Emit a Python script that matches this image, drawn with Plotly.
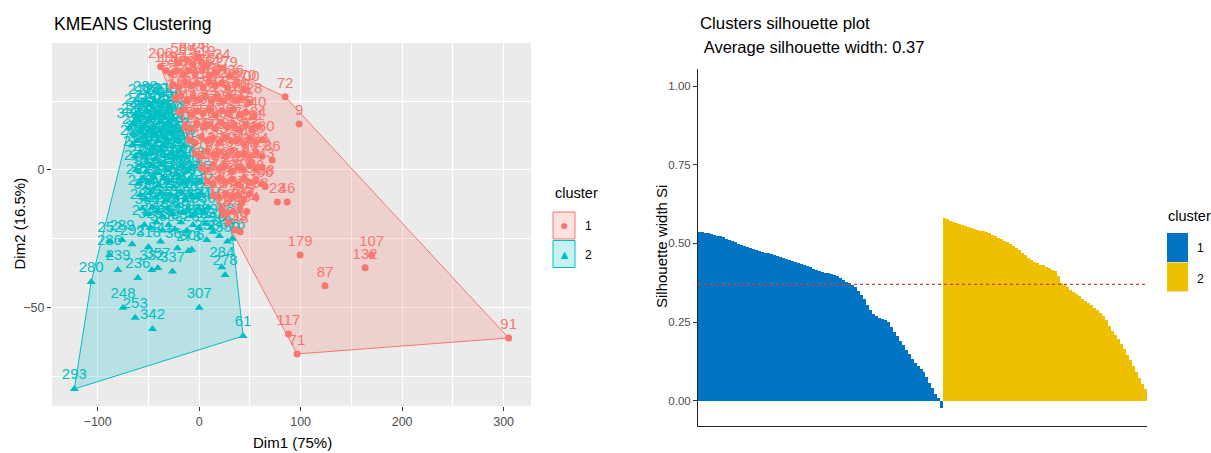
import plotly.graph_objects as go

W, H = 1211, 453
FONT = "Liberation Sans, Arial, sans-serif"

# ---------------- data ----------------
# k-means on PCA scores: (observation id, Dim1, Dim2)
cluster1_points = [
    (73, -2, 40.7), (206, -38, 37.5), (119, -32.5, 36), (24, 22.7, 37), (200, 47.3, 29),
    (72, 84.7, 26.6), (9, 98.5, 16.7), (86, 72, 3.6), (23, 77, -11.6), (46, 86.7, -11.6),
    (179, 99.5, -30.9), (87, 124, -42), (132, 163.5, -35.5), (107, 170, -30.9),
    (117, 88, -59.6), (71, 96.5, -66.8), (91, 305, -61),
    (58, -20, 39), (88, -12, 40), (5, -6, 38.5), (28, 2, 39.5), (19, 8, 38),
    (125, -28, 35), (33, -22, 36), (150, -16, 34.5), (12, -10, 36), (77, -4, 35),
    (44, 3, 36.5), (161, 10, 34.5), (39, 16, 35.5), (79, 30, 34),
    (2, -26, 31), (95, -20, 30), (141, -14, 32), (17, -8, 30.5), (63, -2, 31.5), (110, 4, 30),
    (27, 10, 32), (152, 16, 30.5), (41, 22, 31.5), (190, 28, 30), (36, 36, 31), (170, 44, 29.5),
    (14, -24, 26), (101, -18, 27), (55, -12, 25), (187, -6, 26.5), (8, 0, 25.5), (133, 6, 27),
    (67, 12, 25), (94, 18, 26.5), (159, 24, 25), (31, 30, 27), (112, 36, 25.5), (49, 42, 26),
    (128, 50, 24.5),
    (3, -20, 21), (144, -14, 22), (81, -8, 20), (26, -2, 21.5), (167, 4, 20.5), (52, 10, 22),
    (99, 16, 20), (35, 22, 21.5), (183, 28, 20.5), (60, 34, 22), (115, 40, 20), (16, 46, 21),
    (140, 54, 19.5),
    (47, -14, 16), (105, -8, 15), (11, -2, 17), (176, 4, 15.5), (70, 10, 16.5), (22, 16, 15),
    (138, 22, 17), (92, 28, 15.5), (57, 34, 16), (164, 40, 14.5), (1, 46, 16.5), (121, 52, 15),
    (84, 58, 16),
    (30, -10, 11), (147, -4, 10), (65, 2, 12), (7, 8, 10.5), (113, 14, 11.5), (43, 20, 10),
    (195, 26, 12), (76, 32, 10.5), (18, 38, 11), (156, 44, 9.5), (97, 50, 11.5), (38, 56, 10),
    (130, 62, 11),
    (53, -4, 6), (173, 2, 5), (13, 8, 7), (89, 14, 5.5), (136, 20, 6.5), (40, 26, 5),
    (104, 32, 7), (6, 38, 5.5), (162, 44, 6), (68, 50, 4.5), (124, 56, 6.5), (29, 62, 5),
    (85, 2, 1), (148, 8, 0), (21, 14, 2), (62, 20, 0.5), (180, 26, 1.5), (10, 32, -0.5),
    (116, 38, 1), (50, 44, 0), (93, 50, 2), (4, 56, 0.5), (143, 62, 1),
    (34, 8, -4), (168, 14, -5), (74, 20, -3), (15, 26, -4.5), (126, 32, -3.5), (54, 38, -5),
    (100, 44, -3), (191, 50, -4.5), (42, 56, -3.5), (158, 62, -5), (66, 65, -6),
    (120, 14, -9), (25, 20, -10), (83, 26, -8.5), (171, 32, -10), (37, 38, -9), (109, 44, -10.5),
    (61, 50, -8.5), (153, 56, -10), (145, 42, -12),
    (166, 22, -14), (167, 28, -15.5), (20, 33.5, -15.1), (96, 40, -14), (134, 47, -15.1),
    (78, 23.6, -16.3), (32, 28.6, -19.2), (139, 35.5, -21.8), (48, 40.4, -22.4),
]

cluster2_points = [
    (212, -58, 24), (288, -53, 25), (201, -48, 23.5), (330, -43, 24.5), (264, -38, 23),
    (219, -33, 24.5), (356, -29, 22.5),
    (244, -62, 20.5), (310, -57, 19.5), (227, -52, 21.5), (371, -47, 19), (205, -42, 21),
    (295, -37, 19.5), (259, -32, 21), (338, -27, 18.5),
    (222, -65, 17), (347, -60, 18), (271, -54, 16), (208, -49, 18), (316, -44, 15.5),
    (233, -39, 17.5), (379, -34, 16), (250, -29, 18), (301, -24, 15),
    (385, -69, 15.3), (226, -64, 13), (362, -58, 14), (277, -53, 12.5), (214, -48, 14.5),
    (323, -43, 13), (241, -38, 14), (290, -33, 12), (203, -28, 13.5), (352, -23, 12), (267, -19, 14),
    (229, -66, 9), (305, -61, 10.5), (218, -56, 9), (366, -51, 10), (282, -46, 8), (246, -41, 10.5),
    (334, -36, 9), (209, -31, 10), (298, -26, 8.5), (257, -21, 10.5), (375, -16, 9),
    (221, -63, 5), (313, -58, 6.5), (269, -53, 5.5), (202, -48, 6.5), (344, -43, 4), (235, -38, 7),
    (287, -33, 5), (319, -28, 6), (251, -23, 4.5), (360, -18, 7), (216, -13, 5),
    (274, -62, 0), (225, -57, 2), (327, -52, -0.5), (260, -47, 1.5), (211, -42, -1), (369, -37, 2),
    (294, -32, 0), (240, -27, 1), (308, -22, -1.5), (207, -17, 1.5), (350, -12, -0.5), (263, -7, 1),
    (232, -60, -5), (321, -55, -3), (276, -50, -4.5), (215, -45, -2.5), (358, -40, -5.5),
    (247, -35, -3), (302, -30, -4), (204, -25, -6), (339, -20, -3), (268, -15, -5), (224, -10, -3.5),
    (373, -5, -5), (285, 0, -4),
    (249, -58, -9), (311, -53, -10.5), (230, -48, -8), (363, -43, -10), (279, -38, -8.5),
    (213, -33, -11), (326, -28, -9), (256, -23, -10), (297, -18, -8), (220, -13, -11),
    (345, -8, -9), (272, -3, -10), (317, 2, -8.5),
    (237, -56, -14), (354, -51, -16), (283, -46, -13.5), (210, -41, -15), (329, -36, -17),
    (261, -31, -14), (300, -26, -16), (228, -21, -13), (377, -16, -15.5), (243, -11, -14),
    (315, -6, -16.5), (254, -1, -14), (336, 4, -15.5), (217, 9, -13.5),
    (270, -54, -20), (325, -48, -21), (258, -42, -19), (368, -36, -22), (234, -30, -20),
    (303, -24, -21.5), (281, -18, -19), (223, -12, -22), (349, -6, -20), (266, 0, -21),
    (299, 6, -19.5), (231, 12, -21),
    (252, -88, -26), (289, -76, -25.4), (286, -88.4, -30.9), (292, -66, -27), (318, -50, -28),
    (341, -38, -26), (364, -21.4, -28.4), (273, -10.5, -29.4), (306, -7.2, -29), (238, 7.6, -25.4),
    (296, 13.8, -22.4), (312, 20, -24), (359, 28, -26), (376, 33, -25), (381, 30.5, -19),
    (239, -80, -36.3), (236, -60.4, -39.2), (332, -46.6, -36.3), (357, -40.7, -35.6),
    (337, -26.3, -36.9), (284, 22.3, -35.3), (278, 25.6, -38.1),
    (293, -123, -79.5), (280, -106.4, -40.7), (248, -75, -50), (253, -63, -53.7),
    (342, -46, -57.7), (307, 0, -50), (61, 43.3, -60.3),
]

# silhouette widths, sorted within each cluster
sil_cluster1 = [
    0.537, 0.535, 0.534, 0.532, 0.530, 0.528, 0.525, 0.522, 0.519, 0.514,
    0.510, 0.507, 0.503, 0.499, 0.496, 0.492, 0.489, 0.486, 0.483, 0.480,
    0.477, 0.474, 0.471, 0.468, 0.466, 0.463, 0.460, 0.457, 0.454, 0.451,
    0.448, 0.445, 0.442, 0.438, 0.435, 0.431, 0.427, 0.424, 0.420, 0.417,
    0.413, 0.410, 0.407, 0.405, 0.402, 0.400, 0.396, 0.390, 0.385, 0.379,
    0.374, 0.369, 0.362, 0.350, 0.337, 0.322, 0.305, 0.288, 0.277, 0.268,
    0.264, 0.261, 0.257, 0.250, 0.236, 0.219, 0.205, 0.190, 0.176, 0.162,
    0.148, 0.134, 0.120, 0.110, 0.101, 0.091, 0.077, 0.057, 0.040, 0.023,
    0.008, -0.023,
]
sil_cluster2 = [
    0.580, 0.576, 0.572, 0.568, 0.564, 0.561, 0.558, 0.555, 0.552, 0.549,
    0.547, 0.544, 0.541, 0.538, 0.535, 0.532, 0.527, 0.522, 0.517, 0.513,
    0.508, 0.503, 0.497, 0.491, 0.485, 0.479, 0.471, 0.463, 0.455, 0.446,
    0.440, 0.437, 0.433, 0.430, 0.426, 0.421, 0.416, 0.411, 0.398, 0.374,
    0.367, 0.360, 0.353, 0.346, 0.339, 0.332, 0.325, 0.317, 0.310, 0.303,
    0.295, 0.288, 0.280, 0.271, 0.256, 0.239, 0.222, 0.209, 0.195, 0.180,
    0.165, 0.147, 0.129, 0.111, 0.092, 0.073, 0.055, 0.038,
]
avg_sil_width = 0.37

dim1_ticks = [-100, 0, 100, 200, 300]
dim2_ticks = [-50, 0]
sil_ticks = [0.0, 0.25, 0.50, 0.75, 1.00]

COL = {"1": "#F8766D", "2": "#00BFC4"}
FILL = {"1": "rgba(248,118,109,0.22)", "2": "rgba(0,191,196,0.22)"}
SIL_COL = {"1": "#0073C2", "2": "#EFC000"}


def convex_hull(pts):
    pts = sorted(set(pts))

    def cross(o, a, b):
        return (a[0] - o[0]) * (b[1] - o[1]) - (a[1] - o[1]) * (b[0] - o[0])

    lower, upper = [], []
    for p in pts:
        while len(lower) >= 2 and cross(lower[-2], lower[-1], p) <= 0:
            lower.pop()
        lower.append(p)
    for p in reversed(pts):
        while len(upper) >= 2 and cross(upper[-2], upper[-1], p) <= 0:
            upper.pop()
        upper.append(p)
    return lower[:-1] + upper[:-1]


def px(x):
    return x / W


def py(y):
    return 1 - y / H


fig = go.Figure()

# ---------------- cluster plot ----------------
clusters = [("2", cluster2_points, "triangle-up", 8), ("1", cluster1_points, "circle", 7)]
for name, pts, _, _ in clusters:
    hull = convex_hull([(x, y) for _, x, y in pts])
    hull.append(hull[0])
    fig.add_trace(go.Scatter(
        x=[p[0] for p in hull], y=[p[1] for p in hull], mode="lines",
        fill="toself", fillcolor=FILL[name], line=dict(color=COL[name], width=1),
        xaxis="x", yaxis="y", hoverinfo="skip", showlegend=False))

for name, pts, symbol, size in clusters:
    fig.add_trace(go.Scatter(
        x=[p[1] for p in pts], y=[p[2] for p in pts], text=[str(p[0]) for p in pts],
        mode="markers+text", textposition="top center",
        textfont=dict(family=FONT, size=15, color=COL[name]),
        marker=dict(symbol=symbol, size=size, color=COL[name]),
        xaxis="x", yaxis="y", showlegend=False, name=name))

# ---------------- silhouette plot ----------------
sil_all = sil_cluster1 + sil_cluster2
order = list(range(1, len(sil_all) + 1))
bar_colors = [SIL_COL["1"]] * len(sil_cluster1) + [SIL_COL["2"]] * len(sil_cluster2)
fig.add_trace(go.Bar(x=order, y=sil_all, marker=dict(color=bar_colors, line=dict(width=0)),
                     xaxis="x2", yaxis="y2", showlegend=False))

shapes = [
    # grey panel of the cluster plot
    dict(type="rect", xref="x domain", yref="y domain", x0=0, x1=1, y0=0, y1=1,
         fillcolor="#EBEBEB", line=dict(width=0), layer="below"),
    # average silhouette width
    dict(type="line", xref="x2", yref="y2", x0=0.5, x1=len(sil_all) + 0.5,
         y0=avg_sil_width, y1=avg_sil_width, line=dict(color="#c8413a", width=1.2, dash="3px,3px")),
]

# legend keys
for i, name in enumerate(["1", "2"]):
    top = 212 + i * 28.5
    shapes.append(dict(type="rect", xref="paper", yref="paper", x0=px(553), x1=px(575),
                       y0=py(top + 27), y1=py(top), fillcolor=FILL[name],
                       line=dict(color=COL[name], width=1)))
    top2 = 233 + i * 29.5
    shapes.append(dict(type="rect", xref="paper", yref="paper", x0=px(1167), x1=px(1188),
                       y0=py(top2 + 29), y1=py(top2), fillcolor=SIL_COL[name],
                       line=dict(width=0)))


def ann(text, x, y, size, color="#000000", xanchor="left", yanchor="middle", angle=0):
    return dict(text=text, x=px(x), y=py(y), xref="paper", yref="paper", showarrow=False,
                xanchor=xanchor, yanchor=yanchor, textangle=angle,
                font=dict(family=FONT, size=size, color=color))


annotations = [
    ann("KMEANS Clustering", 52, 24, 17.5),
    ann("Dim1 (75%)", 292, 442, 15, xanchor="center"),
    ann("Dim2 (16.5%)", 18.5, 224, 15, xanchor="center", angle=-90),
    ann("cluster", 553, 193, 14.5),
    ann("1", 583, 226, 12),
    ann("2", 583, 255, 12),
    ann("\u25CF", 564, 225, 14, color=COL["1"], xanchor="center"),
    ann("\u25B2", 564, 254, 13, color=COL["2"], xanchor="center"),
    ann("Clusters silhouette plot", 698, 23.5, 16.8),
    ann(" Average silhouette width: " + f"{avg_sil_width:.2f}", 698, 47.5, 16.5),
    ann("Silhouette width Si", 661, 247, 15, xanchor="center", angle=-90),
    ann("cluster", 1166, 216, 14.5),
    ann("1", 1195, 248, 12),
    ann("2", 1195, 279, 12),
]

fig.update_layout(
    width=W, height=H, margin=dict(l=0, r=0, t=0, b=0),
    paper_bgcolor="white", plot_bgcolor="white",
    font=dict(family=FONT), bargap=0, showlegend=False,
    shapes=shapes, annotations=annotations,
    xaxis=dict(domain=[px(52), px(531)], range=[-145, 327], tickvals=dim1_ticks,
               showgrid=True, gridcolor="white", gridwidth=1.2,
               minor=dict(dtick=50, tick0=0, showgrid=True, gridcolor="white", gridwidth=0.6),
               ticks="outside", ticklen=4, tickcolor="#333333", zeroline=False, showline=False,
               tickfont=dict(family=FONT, size=12.5, color="#4D4D4D")),
    yaxis=dict(domain=[py(406), py(43)], range=[-85.7, 46.1], tickvals=dim2_ticks,
               showgrid=True, gridcolor="white", gridwidth=1.2,
               minor=dict(dtick=25, tick0=0, showgrid=True, gridcolor="white", gridwidth=0.6),
               ticks="outside", ticklen=4, tickcolor="#333333", zeroline=False, showline=False,
               tickfont=dict(family=FONT, size=12.5, color="#4D4D4D")),
    xaxis2=dict(domain=[px(698), px(1147)], range=[0.5, len(sil_all) + 0.5], anchor="y2",
                showticklabels=False, ticks="", showgrid=False, zeroline=False,
                showline=True, linecolor="#222222", linewidth=1),
    yaxis2=dict(domain=[py(426), py(69)], range=[-0.080, 1.054], anchor="x2",
                tickvals=sil_ticks, ticktext=[f"{v:.2f}" for v in sil_ticks],
                ticks="outside", ticklen=4, tickcolor="#333333", showgrid=False, zeroline=False,
                showline=True, linecolor="#222222", linewidth=1,
                tickfont=dict(family=FONT, size=11.5, color="#4D4D4D")),
)

fig.write_html("out.html")
